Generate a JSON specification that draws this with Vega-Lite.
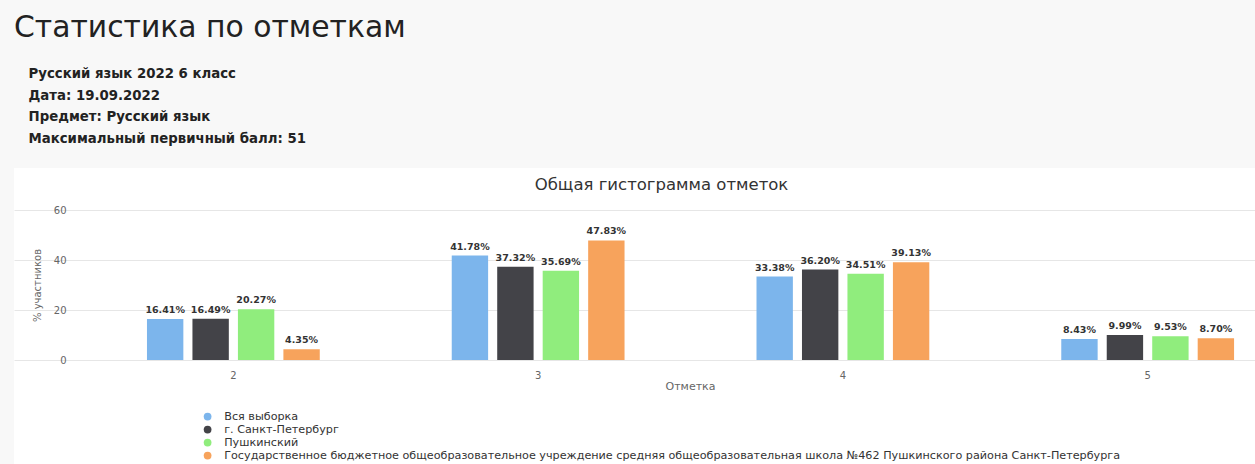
{
  "$schema": "https://vega.github.io/schema/vega-lite/v6.json",
  "width": 1241,
  "height": 296,
  "autosize": {"type": "none"},
  "padding": {"left": 14, "top": 168, "right": 0, "bottom": 0},
  "background": "#f8f8f8",
  "config": {"view": {"fill": "#ffffff", "stroke": null}, "font": "DejaVu Sans"},
  "title": {
    "text": "Статистика по отметкам",
    "anchor": "start",
    "frame": "group",
    "font": "DejaVu Sans",
    "fontSize": 29.8,
    "fontWeight": "normal",
    "color": "#222222",
    "offset": 24
  },
  "data": {
    "values": [
      {"grade": "2", "series": "Вся выборка", "pct": 16.41},
      {"grade": "2", "series": "г. Санкт-Петербург", "pct": 16.49},
      {"grade": "2", "series": "Пушкинский", "pct": 20.27},
      {"grade": "2", "series": "Государственное бюджетное общеобразовательное учреждение средняя общеобразовательная школа №462 Пушкинского района Санкт-Петербурга", "pct": 4.35},
      {"grade": "3", "series": "Вся выборка", "pct": 41.78},
      {"grade": "3", "series": "г. Санкт-Петербург", "pct": 37.32},
      {"grade": "3", "series": "Пушкинский", "pct": 35.69},
      {"grade": "3", "series": "Государственное бюджетное общеобразовательное учреждение средняя общеобразовательная школа №462 Пушкинского района Санкт-Петербурга", "pct": 47.83},
      {"grade": "4", "series": "Вся выборка", "pct": 33.38},
      {"grade": "4", "series": "г. Санкт-Петербург", "pct": 36.20},
      {"grade": "4", "series": "Пушкинский", "pct": 34.51},
      {"grade": "4", "series": "Государственное бюджетное общеобразовательное учреждение средняя общеобразовательная школа №462 Пушкинского района Санкт-Петербурга", "pct": 39.13},
      {"grade": "5", "series": "Вся выборка", "pct": 8.43},
      {"grade": "5", "series": "г. Санкт-Петербург", "pct": 9.99},
      {"grade": "5", "series": "Пушкинский", "pct": 9.53},
      {"grade": "5", "series": "Государственное бюджетное общеобразовательное учреждение средняя общеобразовательная школа №462 Пушкинского района Санкт-Петербурга", "pct": 8.70}
    ]
  },
  "transform": [{"calculate": "format(datum.pct, '.2f') + '%'", "as": "label"}],
  "layer": [
    {
      "mark": {"type": "bar"},
      "encoding": {
        "x": {
          "field": "grade", "type": "nominal",
          "scale": {"paddingInner": 0.433, "paddingOuter": 0.2525, "align": 0.864},
          "axis": {
            "orient": "bottom", "offset": -104, "domain": false, "ticks": false, "grid": false,
            "labelAngle": 0, "labelPadding": 10, "labelFontSize": 10, "labelColor": "#666666",
            "title": "Отметка", "titleFontSize": 11, "titleColor": "#666666", "titleFontWeight": "normal",
            "titleX": 676, "titleY": 26, "titleBaseline": "middle", "titleAlign": "center"
          }
        },
        "xOffset": {
          "field": "series", "type": "nominal",
          "sort": ["Вся выборка", "г. Санкт-Петербург", "Пушкинский", "Государственное бюджетное общеобразовательное учреждение средняя общеобразовательная школа №462 Пушкинского района Санкт-Петербурга"],
          "scale": {"paddingInner": 0.2, "paddingOuter": 0}
        },
        "y": {
          "field": "pct", "type": "quantitative", "stack": null,
          "scale": {"domain": [-41.6, 76.8], "nice": false, "zero": false},
          "axis": {
            "orient": "left", "offset": -60, "values": [0, 20, 40, 60], "domain": false, "ticks": false,
            "grid": true, "gridColor": "#e6e6e6", "labelPadding": 8, "labelFontSize": 10, "labelColor": "#666666",
            "title": "% участников", "titleFontSize": 10, "titleColor": "#666666", "titleFontWeight": "normal",
            "titleX": -37, "titleY": 117, "titleAngle": -90, "titleAlign": "center", "titleBaseline": "middle"
          }
        },
        "y2": {"datum": 0},
        "color": {
          "field": "series", "type": "nominal",
          "sort": ["Вся выборка", "г. Санкт-Петербург", "Пушкинский", "Государственное бюджетное общеобразовательное учреждение средняя общеобразовательная школа №462 Пушкинского района Санкт-Петербурга"],
          "scale": {"range": ["#7cb5ec", "#434348", "#90ed7d", "#f7a35c"]},
          "legend": {
            "orient": "none", "legendX": 188, "legendY": 243, "title": null, "direction": "vertical",
            "symbolType": "circle", "symbolSize": 60, "symbolStrokeWidth": 0,
            "labelFontSize": 11.2, "labelColor": "#333333", "labelLimit": 1100, "labelOffset": 11,
            "rowPadding": 1, "padding": 0
          }
        }
      }
    },
    {
      "mark": {"type": "text", "baseline": "bottom", "dy": -4, "fontSize": 9.5, "fontWeight": "bold", "color": "#333333"},
      "encoding": {
        "x": {
          "field": "grade", "type": "nominal",
          "axis": {
            "orient": "top", "domain": false, "ticks": false, "labels": false, "grid": false,
            "title": ["Русский язык 2022 6 класс", "Дата: 19.09.2022", "Предмет: Русский язык", "Максимальный первичный балл: 51"],
            "titleX": 14, "titleY": -90.5, "titleAlign": "left", "titleBaseline": "alphabetic",
            "titleFont": "DejaVu Sans", "titleFontSize": 13.3, "titleFontWeight": "bold", "titleColor": "#222222",
            "titleLineHeight": 21.7
          }
        },
        "xOffset": {
          "field": "series", "type": "nominal",
          "sort": ["Вся выборка", "г. Санкт-Петербург", "Пушкинский", "Государственное бюджетное общеобразовательное учреждение средняя общеобразовательная школа №462 Пушкинского района Санкт-Петербурга"]
        },
        "y": {
          "field": "pct", "type": "quantitative", "stack": null,
          "axis": {
            "orient": "right", "domain": false, "ticks": false, "labels": false, "grid": false,
            "title": "Общая гистограмма отметок", "titleAngle": 0, "titleX": -594, "titleY": 16,
            "titleAlign": "center", "titleBaseline": "middle", "titleFont": "DejaVu Sans",
            "titleFontSize": 16.5, "titleFontWeight": "normal", "titleColor": "#333333"
          }
        },
        "text": {"field": "label"}
      }
    }
  ],
  "resolve": {"axis": {"x": "independent", "y": "independent"}}
}
